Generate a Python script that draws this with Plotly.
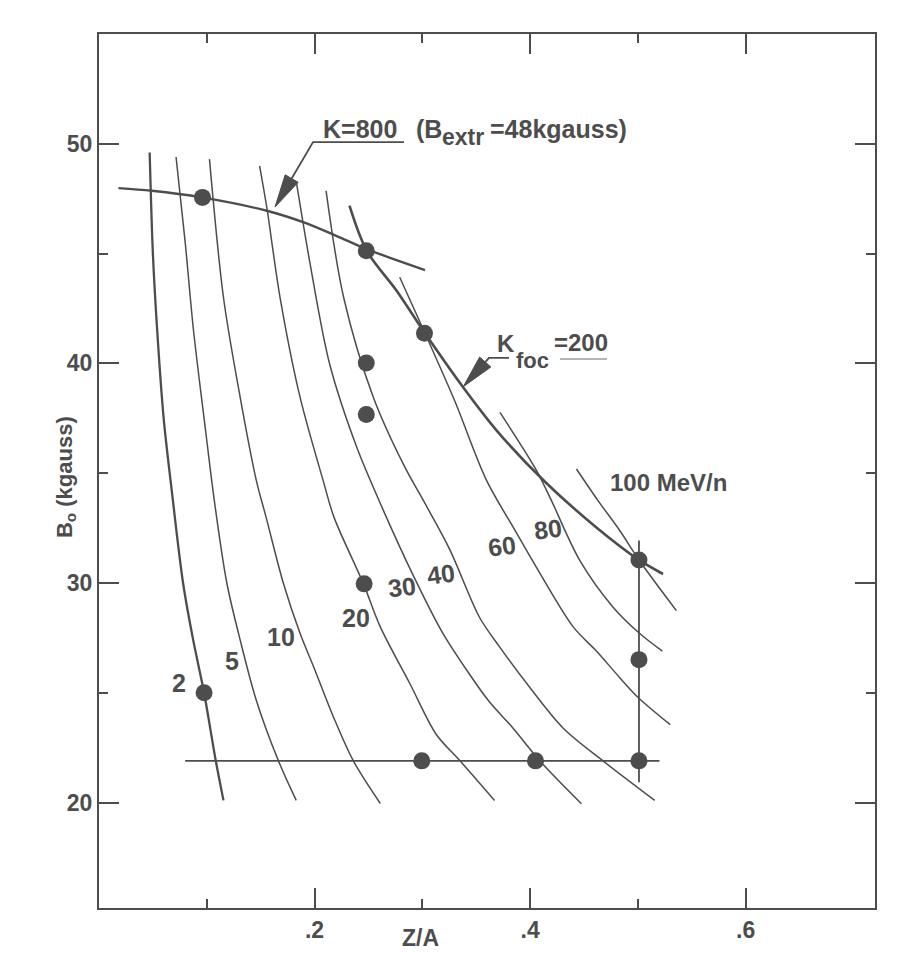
import plotly.graph_objects as go

# ---------------- data ----------------
# iso-energy curves (MeV/n): Z/A vs B0 (kgauss)
e2_x = [0.047, 0.050, 0.054, 0.060, 0.068, 0.078, 0.087, 0.0975, 0.108, 0.1155]
e2_y = [49.6, 45.0, 41.5, 37.5, 34.0, 30.0, 27.5, 25.0, 22.0, 20.1]

e5_x = [0.0715, 0.080, 0.0877, 0.099, 0.107, 0.1186, 0.131, 0.146, 0.1665, 0.183]
e5_y = [49.4, 45.5, 41.5, 36.9, 33.75, 30.0, 27.4, 24.65, 21.9, 20.1]

e10_x = [0.1025, 0.1155, 0.131, 0.146, 0.155, 0.171, 0.1866, 0.199, 0.2175, 0.236, 0.261]
e10_y = [49.3, 43.0, 38.45, 34.66, 33.0, 30.0, 27.7, 26.2, 23.9, 21.9, 19.96]

e20_x = [0.149, 0.1557, 0.168, 0.1866, 0.208, 0.218, 0.2454, 0.261, 0.2886, 0.313, 0.335, 0.367]
e20_y = [49.0, 47.1, 43.0, 38.45, 34.66, 33.0, 29.96, 28.0, 25.4, 23.1, 21.9, 20.1]

e30_x = [0.183, 0.196, 0.214, 0.239, 0.263, 0.292, 0.318, 0.343, 0.362, 0.384, 0.409, 0.4476]
e30_y = [48.3, 44.5, 39.97, 36.2, 33.4, 30.3, 27.8, 25.9, 24.6, 23.4, 21.9, 19.95]

e40_x = [0.2107, 0.227, 0.2546, 0.2825, 0.305, 0.3257, 0.353, 0.372, 0.3996, 0.4305, 0.4676, 0.5156]
e40_y = [47.86, 43.0, 38.45, 35.4, 33.4, 31.5, 28.44, 27.07, 25.25, 23.4, 21.9, 20.1]

e60_x = [0.279, 0.3025, 0.330, 0.3597, 0.386, 0.406, 0.44, 0.4615, 0.483, 0.50, 0.530]
e60_y = [43.92, 41.37, 38.3, 34.66, 32.4, 30.7, 28.0, 26.9, 25.7, 24.8, 23.55]

e80_x = [0.372, 0.406, 0.4198, 0.4462, 0.477, 0.5017, 0.5227]
e80_y = [37.77, 35.12, 33.75, 31.02, 28.9, 27.7, 26.9]

e100_x = [0.443, 0.463, 0.483, 0.5017, 0.5357]
e100_y = [35.19, 33.75, 32.4, 31.0, 28.74]

# K = 800 extraction limit curve
k800_x = [0.018, 0.049, 0.0953, 0.1557, 0.19, 0.2206, 0.2484, 0.3025]
k800_y = [47.98, 47.86, 47.56, 46.95, 46.42, 45.8, 45.2, 44.25]

# K_foc = 200 focusing limit curve
kfoc_x = [0.2324, 0.2484, 0.2763, 0.3025, 0.338, 0.369, 0.414, 0.4615, 0.501, 0.5233]
kfoc_y = [47.18, 45.13, 43.3, 41.37, 38.9, 36.94, 34.6, 32.53, 31.05, 30.41]

# minimum field line and maximum Z/A line
bmin_x = [0.080, 0.520]
bmin_y = [21.9, 21.9]
zamax_x = [0.501, 0.501]
zamax_y = [20.93, 31.93]

# operating points
pts_x = [0.096, 0.248, 0.302, 0.248, 0.248, 0.246, 0.0975, 0.2995, 0.405, 0.501, 0.501, 0.501]
pts_y = [47.56, 45.13, 41.37, 40.02, 37.67, 29.96, 25.0, 21.9, 21.9, 21.9, 26.51, 31.05]

# curve labels
lab_text = ["2", "5", "10", "20", "30", "40", "60", "80", "100 MeV/n"]
lab_x = [0.0744, 0.1238, 0.1693, 0.2387, 0.2810, 0.3177, 0.3741, 0.4167, 0.528]
lab_y = [25.44, 26.47, 27.53, 28.39, 29.8, 30.41, 31.7, 32.46, 34.57]
lab_angle = [0, 0, 0, 0, -7, -7, -7, -7, 0]

x_ticks = [0.2, 0.4, 0.6]
x_ticktext = [".2", ".4", ".6"]
x_minor = [0.1, 0.3, 0.5]
y_ticks = [20, 30, 40, 50]
y_minor = [25, 35, 45]

# ---------------- styling / geometry ----------------
INK = "#4d4d4d"
FONT = "Liberation Sans"
W_FIG, H_FIG = 907, 968
ML, MR, MT, MB = 91, 40, 26, 68
X0, X1 = 0.0, 0.72
Y0, Y1 = 15.2, 55.0
PW = W_FIG - ML - MR
PH = H_FIG - MT - MB


def d2p(x, y):
    return (x - X0) / (X1 - X0) * PW, (Y1 - y) / (Y1 - Y0) * PH


def p2d(px, py):
    return X0 + px / PW * (X1 - X0), Y1 - py / PH * (Y1 - Y0)


fig = go.Figure()

thin = [(e5_x, e5_y), (e10_x, e10_y), (e20_x, e20_y), (e30_x, e30_y),
        (e40_x, e40_y), (e60_x, e60_y), (e80_x, e80_y), (e100_x, e100_y)]
for xs, ys in thin:
    fig.add_trace(go.Scatter(x=xs, y=ys, mode="lines",
                             line=dict(color=INK, width=1.5, shape="spline", smoothing=0.9),
                             hoverinfo="skip", showlegend=False))

for xs, ys, w in [(e2_x, e2_y, 2.3), (k800_x, k800_y, 2.4), (kfoc_x, kfoc_y, 2.6),
                  (bmin_x, bmin_y, 1.8), (zamax_x, zamax_y, 1.8)]:
    fig.add_trace(go.Scatter(x=xs, y=ys, mode="lines",
                             line=dict(color=INK, width=w, shape="spline", smoothing=0.9),
                             hoverinfo="skip", showlegend=False))

fig.add_trace(go.Scatter(x=pts_x, y=pts_y, mode="markers",
                         marker=dict(size=17, color=INK, line=dict(width=0)),
                         hoverinfo="skip", showlegend=False))

annotations = []
for t, x, y, a in zip(lab_text, lab_x, lab_y, lab_angle):
    annotations.append(dict(x=x, y=y, text=t, showarrow=False, xanchor="center", yanchor="middle",
                            textangle=a,
                            font=dict(family=FONT, size=25 if t != lab_text[-1] else 24,
                                      color=INK, weight="bold")))


def piece(x, y, text, size):
    return dict(x=x, y=y, text=text, showarrow=False, xanchor="left", yanchor="middle",
                borderpad=0, font=dict(family=FONT, size=size, color=INK, weight="bold"))


# K = 800 (B_extr = 48 kgauss) label
annotations += [
    piece(0.2069, 50.68, "K=800", 25),
    piece(0.2932, 50.68, "(B", 25),
    piece(0.3173, 50.29, "extr", 23),
    piece(0.3618, 50.68, "=48kgauss)", 25),
]
# K_foc = 200 label
annotations += [
    piece(0.3680, 40.92, "K", 24),
    piece(0.3860, 40.12, "foc", 22),
    piece(0.4212, 40.93, "=200", 24),
]
# axis titles
annotations.append(dict(xref="paper", yref="paper", x=-33 / PW, y=0.493, textangle=-90,
                        text="B<sub>o</sub> (kgauss)", showarrow=False, xanchor="center", yanchor="middle",
                        font=dict(family=FONT, size=22, color=INK, weight="bold")))
annotations.append(dict(x=0.298, yref="paper", y=-0.0343, text="Z/A", showarrow=False,
                        xanchor="center", yanchor="middle",
                        font=dict(family=FONT, size=23, color=INK, weight="bold")))

# pointer arrows (annotation geometry in data coordinates)
arrows = [
    [(0.283, 50.08), (0.1986, 50.08), (0.1633, 47.12)],
    [(0.3804, 40.25), (0.3618, 40.25), (0.338, 38.94)],
]
shapes = []
for pts in arrows:
    pp = [d2p(*p) for p in pts]
    (ax, ay), (tx, ty) = pp[-2], pp[-1]
    dx, dy = tx - ax, ty - ay
    n = (dx * dx + dy * dy) ** 0.5
    ux, uy = dx / n, dy / n
    hl, hw = 33, 7.5
    bx, by = tx - ux * hl, ty - uy * hl
    v1 = p2d(bx - uy * hw, by + ux * hw)
    v2 = p2d(bx + uy * hw, by - ux * hw)
    b = p2d(bx, by)
    path = "M " + " L ".join(f"{x},{y}" for x, y in pts[:-1] + [b])
    shapes.append(dict(type="path", path=path, line=dict(color=INK, width=1.8), layer="above"))
    tri = f"M {v1[0]},{v1[1]} L {pts[-1][0]},{pts[-1][1]} L {v2[0]},{v2[1]} Z"
    shapes.append(dict(type="path", path=tri, line=dict(color=INK, width=1), fillcolor=INK, layer="above"))

# faint underline under "=200"
shapes.append(dict(type="line", x0=0.4277, x1=0.4713, y0=40.2, y1=40.2,
                   line=dict(color="#b5b5b5", width=2)))

axis_common = dict(ticks="inside", tickwidth=2, tickcolor=INK, ticklen=20,
                   showline=True, linewidth=2, linecolor=INK, mirror="ticks",
                   showgrid=False, zeroline=False,
                   tickfont=dict(family=FONT, size=23, color=INK, weight="bold"))

fig.update_layout(
    width=W_FIG, height=H_FIG,
    margin=dict(l=ML, r=MR, t=MT, b=MB),
    plot_bgcolor="white", paper_bgcolor="white",
    showlegend=False,
    xaxis=dict(range=[X0, X1], tickvals=x_ticks, ticktext=x_ticktext,
               minor=dict(tickvals=x_minor, ticks="inside", ticklen=9, tickwidth=2, tickcolor=INK,
                          showgrid=False),
               **axis_common),
    yaxis=dict(range=[Y0, Y1], tickvals=y_ticks,
               minor=dict(tickvals=y_minor, ticks="inside", ticklen=9, tickwidth=2, tickcolor=INK,
                          showgrid=False),
               **axis_common),
    annotations=annotations,
    shapes=shapes,
)

fig.write_html("out.html")
